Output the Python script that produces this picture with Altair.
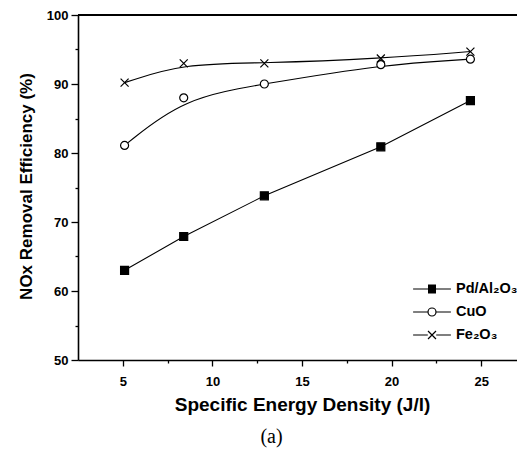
import altair as alt
import pandas as pd

# ---- data ----
energy = [5.1, 8.4, 12.9, 19.4, 24.4]
pd_al2o3 = [63.0, 67.9, 73.8, 80.9, 87.6]
cuo = [81.1, 88.0, 90.0, 92.8, 93.6]
fe2o3 = [90.2, 93.0, 93.0, 93.7, 94.7]
series_names = ["Pd/Al\u2082O\u2083", "CuO", "Fe\u2082O\u2083"]
x_major = [5, 10, 15, 20, 25]
x_minor = [7.5, 12.5, 17.5, 22.5]
y_major = [50, 60, 70, 80, 90, 100]
y_minor = [55, 65, 75, 85, 95]

rows = []
for name, vals in zip(series_names, [pd_al2o3, cuo, fe2o3]):
    for x, y in zip(energy, vals):
        rows.append({"series": name, "x": x, "y": y})
df = pd.DataFrame(rows)

FONT = "Liberation Sans"
X_PATH = "M-1,-1L1,1M1,-1L-1,1"
# legend symbols: line - marker - line (square drawn as dense strokes so it looks filled)
_sq = "".join(f"M-0.57,{v:.2f}H0.57" for v in [-0.57, -0.43, -0.29, -0.14, 0, 0.14, 0.29, 0.43, 0.57])
LEG_PD = "M-2.7,0H-0.57M0.57,0H2.7" + _sq
LEG_CUO = "M-2.7,0H-0.6M0.6,0H2.7M-0.57,0A0.57,0.57,0,1,0,0.57,0A0.57,0.57,0,1,0,-0.57,0Z"
LEG_FE = "M-2.7,0H-0.6M0.6,0H2.7M-0.57,-0.57L0.57,0.57M0.57,-0.57L-0.57,0.57"

x_scale = alt.Scale(domain=[2.5, 27.0], nice=False, zero=False)
y_scale = alt.Scale(domain=[50, 100], nice=False, zero=False)

x_main = alt.X(
    "x:Q", scale=x_scale,
    axis=alt.Axis(
        orient="bottom",
        title="Specific Energy Density (J/l)",
        values=x_major, tickSize=6,
        labelPadding=19, labelBaseline="alphabetic",
        labelFont=FONT, labelFontSize=13, labelFontWeight="bold", labelColor="black",
        titleFont=FONT, titleFontSize=19, titleFontWeight="bold", titleColor="black",
        titleX=224, titleY=50, titleBaseline="alphabetic", titleAlign="center",
        domainColor="black", domainWidth=1.6, tickColor="black", tickWidth=1.3,
        grid=False,
    ),
)
y_main = alt.Y(
    "y:Q", scale=y_scale,
    axis=alt.Axis(
        orient="left",
        title="NOx Removal Efficiency (%)",
        values=y_major, tickSize=7, labelPadding=3,
        labelFont=FONT, labelFontSize=13, labelFontWeight="bold", labelColor="black",
        titleFont=FONT, titleFontSize=17, titleFontWeight="bold", titleColor="black",
        titleX=-47, titleY=171, titleBaseline="alphabetic", titleAlign="center", titleAngle=270,
        domainColor="black", domainWidth=1.6, tickColor="black", tickWidth=1.3,
        grid=False,
    ),
)
x_min = alt.X(
    "x:Q", scale=x_scale,
    axis=alt.Axis(orient="bottom", title=None, values=x_minor, tickSize=3, labels=False,
                  domain=False, tickColor="black", tickWidth=1.3, grid=False),
)
y_min = alt.Y(
    "y:Q", scale=y_scale,
    axis=alt.Axis(orient="left", title=None, values=y_minor, tickSize=3, labels=False,
                  domain=False, tickColor="black", tickWidth=1.3, grid=False),
)
x_none = alt.X("x:Q", scale=x_scale, axis=None)
y_none = alt.Y("y:Q", scale=y_scale, axis=None)

base = alt.Chart(df)

line_straight = base.transform_filter(
    alt.datum.series == series_names[0]
).mark_line(color="black", strokeWidth=1.1).encode(x=x_none, y=y_none, order="x:Q")

line_smooth = base.transform_filter(
    alt.datum.series != series_names[0]
).mark_line(color="black", strokeWidth=1.1, interpolate="basis").encode(
    x=x_none, y=y_none, detail="series:N", order="x:Q"
)

points = base.mark_point(stroke="black", strokeWidth=1.2, size=64, opacity=1).encode(
    x=x_main,
    y=y_main,
    shape=alt.Shape("series:N", scale=alt.Scale(domain=series_names, range=["square", "circle", X_PATH]), legend=None),
    fill=alt.Fill("series:N", scale=alt.Scale(domain=series_names, range=["black", "white", "transparent"]), legend=None),
)

legend_layer = base.transform_filter("datum.x < 0").mark_point(
    color="black", filled=False, strokeWidth=1.2, size=196, opacity=1
).encode(
    x=x_min,
    y=y_min,
    shape=alt.Shape(
        "series:N",
        scale=alt.Scale(domain=series_names, range=[LEG_PD, LEG_CUO, LEG_FE]),
        legend=alt.Legend(
            title=None, orient="none", legendX=346, legendY=266,
            symbolSize=196, symbolStrokeWidth=1.2, symbolStrokeColor="black",
            symbolFillColor="transparent", symbolOpacity=1,
            labelOffset=16, rowPadding=8, padding=0,
            labelFont=FONT, labelFontSize=14.5, labelFontWeight="bold", labelColor="black",
        ),
    ),
)

top_border = alt.Chart(df).mark_rule(color="black", strokeWidth=1.5).encode(
    y=alt.YDatum(100, axis=None, scale=y_scale)
)

chart = alt.layer(
    top_border, line_straight, line_smooth, points, legend_layer
).resolve_scale(
    shape="independent", fill="independent"
).resolve_axis(
    x="independent", y="independent"
).properties(
    width=439,
    height=345,
    autosize=alt.AutoSizeParams(type="none"),
    padding={"left": 70, "top": 7, "right": 0, "bottom": 88},
    title=alt.TitleParams(
        text="(a)", orient="bottom", anchor="middle", frame="group",
        font="Liberation Serif", fontSize=20, fontWeight="normal", color="black",
        dx=-26, offset=13,
    ),
).configure_view(stroke=None).configure(background="white")

chart.save("out.html", embed_options={"renderer": "svg", "actions": False})
